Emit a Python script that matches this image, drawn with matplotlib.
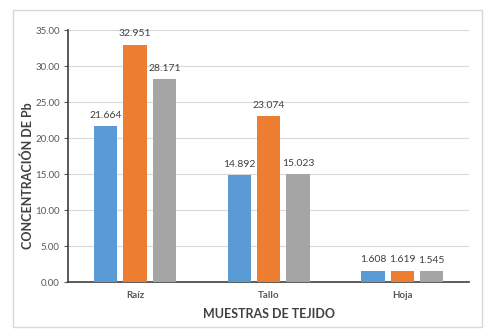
import matplotlib
matplotlib.use("Agg")
import matplotlib.pyplot as plt
import numpy as np
from matplotlib.patches import Rectangle

categories = ["Raíz", "Tallo", "Hoja"]
serie_1 = [21.664, 14.892, 1.608]
serie_2 = [32.951, 23.074, 1.619]
serie_3 = [28.171, 15.023, 1.545]
yticks = [0, 5, 10, 15, 20, 25, 30, 35]

colors = ["#5B9BD5", "#ED7D31", "#A5A5A5"]
text_color = "#595959"

plt.rcParams["font.family"] = ["Lato", "DejaVu Sans"]

fig = plt.figure(figsize=(4.97, 3.35), dpi=100)
ax = fig.add_axes([0.137, 0.157, 0.807, 0.753])

# outer chart border
fig.patches.append(Rectangle((13 / 497, 1 - 327 / 335), 469 / 497, 317 / 335,
                             transform=fig.transFigure, fill=False,
                             edgecolor="#D9D9D9", linewidth=1))

x = np.arange(len(categories))
width = 0.175
offsets = [-0.22, 0, 0.22]
for vals, off, c in zip([serie_1, serie_2, serie_3], offsets, colors):
    bars = ax.bar(x + off, vals, width, color=c, zorder=3)
    for b, v in zip(bars, vals):
        ax.text(b.get_x() + b.get_width() / 2, v + 0.9, f"{v:.3f}",
                ha="center", va="bottom", fontsize=7.5, color="#404040")

ax.set_xlim(-0.5, 2.5)
ax.set_ylim(0, 35)
ax.set_yticks(yticks)
ax.set_yticklabels([f"{t:.2f}" for t in yticks])
ax.set_xticks(x)
ax.set_xticklabels(categories, fontweight="bold")
ax.tick_params(axis="y", labelsize=7, colors=text_color, length=3, width=0.8, pad=3)
ax.tick_params(axis="x", labelsize=7, colors=text_color, length=0, pad=6)
ax.grid(axis="y", color="#D9D9D9", linewidth=0.8, zorder=0)

for s in ["top", "right"]:
    ax.spines[s].set_visible(False)
ax.spines["left"].set_color("#404040")
ax.spines["bottom"].set_color("#404040")
ax.spines["left"].set_linewidth(1.2)
ax.spines["bottom"].set_linewidth(1.2)

# axis titles placed like the original
fig.text(269 / 497, 1 - 314 / 335, "MUESTRAS DE TEJIDO", fontsize=9,
         fontweight="bold", color="#404040", ha="center", va="center")
fig.text(28 / 497, 1 - 176 / 335, "CONCENTRACIÓN DE Pb", fontsize=9,
         fontweight="bold", color="#404040", ha="center", va="center",
         rotation=90)

fig.savefig("out.png", dpi=100)
